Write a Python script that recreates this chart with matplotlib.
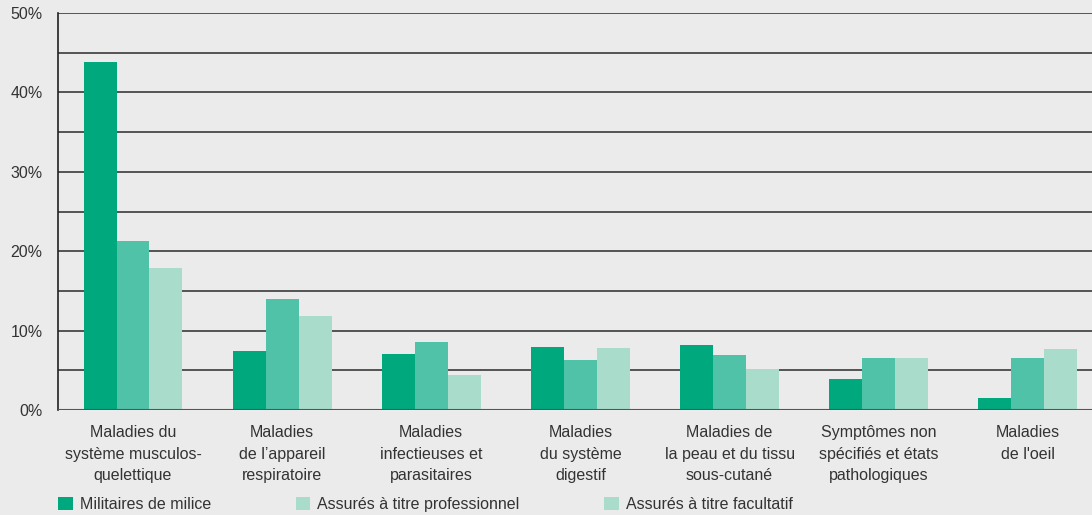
import matplotlib
matplotlib.use("Agg")
import matplotlib.pyplot as plt
from matplotlib.patches import Patch
import numpy as np

categories = [
    "Maladies du\nsystème musculos-\nquelettique",
    "Maladies\nde l’appareil\nrespiratoire",
    "Maladies\ninfectieuses et\nparasitaires",
    "Maladies\ndu système\ndigestif",
    "Maladies de\nla peau et du tissu\nsous-cutané",
    "Symptômes non\nspécifiés et états\npathologiques",
    "Maladies\nde l'oeil",
]
series_names = ["Militaires de milice", "Assurés à titre professionnel", "Assurés à titre facultatif"]
militaires = [43.8, 7.4, 7.1, 7.9, 8.2, 3.9, 1.5]
professionnel = [21.3, 14.0, 8.6, 6.3, 6.9, 6.6, 6.6]
facultatif = [17.9, 11.8, 4.4, 7.8, 5.2, 6.6, 7.7]
yticks = [0, 10, 20, 30, 40, 50]
ytick_labels = ["0%", "10%", "20%", "30%", "40%", "50%"]

colors = ["#00a87e", "#4fc2a7", "#aadccc"]
legend_colors = ["#00a87e", "#aadccc", "#aadccc"]
bg = "#ebebeb"

plt.rcParams['font.family'] = ['Liberation Sans', 'DejaVu Sans']
fs = 11.5

fig = plt.figure(figsize=(10.92, 5.15), dpi=100, facecolor=bg)
ax = fig.add_axes([58/1092, 1 - 410/515, 1 - 58/1092, (410 - 13)/515])
ax.set_facecolor(bg)

x = np.arange(len(categories))
w = 0.221
for i, (vals, c) in enumerate(zip([militaires, professionnel, facultatif], colors)):
    ax.bar(x + (i - 1) * w, vals, width=w, color=c, zorder=3, linewidth=0)

ax.set_ylim(0, 50)
ax.set_xlim(-0.503, 6.43)
for yv in np.arange(5, 51, 5):
    ax.axhline(yv, color="#3a3a3a", linewidth=1.2, zorder=2)
ax.axhline(0, color="#555555", linewidth=1.5, zorder=4)

ax.set_yticks(yticks)
ax.set_yticklabels(ytick_labels, fontsize=fs, color="#333333")
ax.set_xticks(x)
ax.set_xticklabels(categories, fontsize=fs, color="#333333", linespacing=1.55)
ax.tick_params(axis="both", length=0)
ax.tick_params(axis="y", pad=11)
ax.tick_params(axis="x", pad=11)
for s in ["top", "right", "bottom"]:
    ax.spines[s].set_visible(False)
ax.spines["left"].set_color("#222222")
ax.spines["left"].set_linewidth(1.2)

handles = [Patch(facecolor=c, edgecolor="none") for c in legend_colors]
leg = fig.legend(handles, series_names, loc="lower left", bbox_to_anchor=(44/1092, -0.022),
                 ncol=3, frameon=False, fontsize=fs, handlelength=0.9, handleheight=0.9,
                 handletextpad=0.45, columnspacing=5.3, labelcolor="#333333")

fig.savefig("out.png", dpi=100, facecolor=bg)
